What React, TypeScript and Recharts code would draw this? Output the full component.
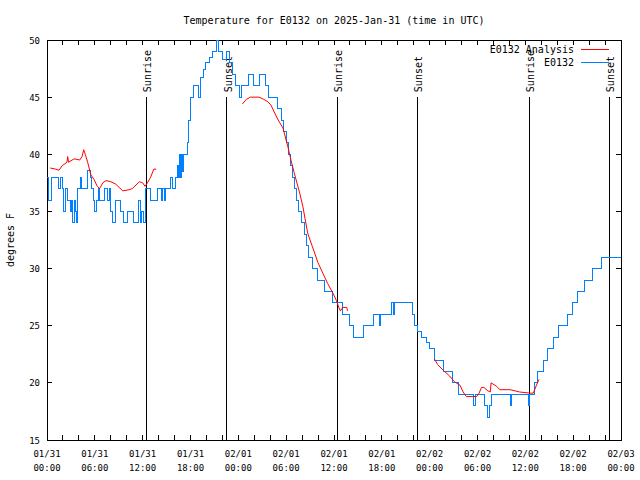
import { LineChart, Line, XAxis, YAxis, ReferenceLine, ReferenceArea } from 'recharts'

const FONT = '"DejaVu Sans Mono", "Liberation Mono", monospace'
const PLOT_TOP = 40
const PLOT_BOTTOM = 440
const PLOT_LEFT = 47
const PLOT_RIGHT = 621

// hours since 01/31 00:00 UTC
const hourTicks = [
  0, 2, 4, 6, 8, 10, 12, 14, 16, 18, 20, 22, 24, 26, 28, 30, 32, 34, 36, 38,
  40, 42, 44, 46, 48, 50, 52, 54, 56, 58, 60, 62, 64, 66, 68, 70, 72,
]
const dayLabels = [
  '01/31', '01/31', '01/31', '01/31', '02/01', '02/01', '02/01', '02/01',
  '02/02', '02/02', '02/02', '02/02', '02/03',
]
const clockLabels = [
  '00:00', '06:00', '12:00', '18:00', '00:00', '06:00', '12:00', '18:00',
  '00:00', '06:00', '12:00', '18:00', '00:00',
]
const tempTicks = [15, 20, 25, 30, 35, 40, 45, 50]

const sunTimes = [12.42, 22.55, 36.42, 46.46, 60.52, 70.55]
const sunLabels = ['Sunrise', 'Sunset', 'Sunrise', 'Sunset', 'Sunrise', 'Sunset']

const seriesNames = ['E0132 Analysis', 'E0132']

// station obs [hour, degF]
const observed: [number, number][] = [
  [0, 38], [0.2, 36], [0.55, 38], [1.5, 37], [1.7, 38], [1.9, 37], [2.1, 35],
  [2.35, 37], [2.6, 36], [2.9, 35], [3.05, 36], [3.2, 34], [3.4, 36], [3.6, 35],
  [3.75, 34], [3.85, 37], [4.15, 38], [4.35, 37], [5.1, 38.6], [5.4, 38],
  [5.55, 37], [5.8, 36], [6.0, 35], [6.25, 36], [6.4, 37], [6.6, 36], [7.15, 37],
  [7.6, 36], [7.8, 37], [8.0, 35], [8.2, 34], [8.6, 36], [9.2, 35], [9.6, 34],
  [10.1, 35], [10.9, 34], [11.5, 36], [11.7, 34], [11.9, 35], [12.1, 34],
  [12.35, 37], [13.0, 36], [13.9, 37], [14.3, 36], [14.5, 37], [14.7, 36],
  [14.9, 37], [15.5, 38], [15.7, 37], [16.1, 38], [16.4, 39], [16.55, 38],
  [16.65, 40], [16.8, 38], [16.9, 40], [17.05, 38.5], [17.15, 40], [17.65, 41],
  [17.8, 43], [17.95, 45], [18.4, 46], [19.0, 45], [19.2, 46.7], [19.6, 47.4],
  [19.9, 48], [20.4, 48.5], [20.8, 49], [21.3, 50], [21.5, 49], [22.0, 48.3],
  [22.5, 49], [22.9, 48], [23.3, 47], [23.7, 46], [24.1, 45], [24.45, 46],
  [25.3, 47], [25.95, 46], [26.6, 47], [27.35, 46], [27.8, 45], [28.9, 44],
  [29.4, 43], [29.7, 42], [30.0, 41], [30.3, 40], [30.6, 39], [30.85, 38],
  [31.05, 37], [31.35, 36], [31.6, 35], [31.95, 34], [32.25, 33], [32.55, 32],
  [32.85, 31], [33.3, 30], [33.9, 29], [34.8, 28], [35.85, 27], [37.05, 26],
  [37.95, 25], [38.4, 24], [39.65, 25], [40.9, 26], [41.65, 25], [41.85, 26],
  [43.25, 27], [43.45, 26], [43.6, 27], [45.85, 26], [46.1, 25], [46.5, 24.5],
  [46.95, 24], [47.6, 23.5], [48.0, 23], [48.6, 22], [49.7, 21], [50.9, 20],
  [51.6, 19], [53.55, 18], [53.7, 19], [54.9, 18], [55.2, 17], [55.45, 18],
  [55.8, 19], [58.15, 18], [58.3, 19], [60.45, 18], [60.55, 19], [61.2, 20],
  [61.55, 21], [62.3, 22], [62.75, 23], [63.5, 24], [64.2, 25], [65.3, 26],
  [65.9, 27], [66.5, 28], [67.4, 29], [68.4, 30], [69.6, 31], [72, 31],
]

// analysis runs [hour, degF]
const analysisRun1: [number, number][] = [
  [0.4, 38.8], [1.1, 38.7], [1.5, 38.6], [1.9, 39.0], [2.5, 39.3], [2.6, 39.8],
  [2.7, 39.3], [3.4, 39.6], [4.1, 39.5], [4.4, 39.8], [4.6, 40.4], [4.8, 40.0],
  [5.1, 39.3], [5.5, 38.2], [5.9, 37.8], [6.3, 37.2], [6.6, 37.0], [7.0, 37.5],
  [7.4, 37.7], [8.0, 37.6], [8.6, 37.4], [9.5, 36.8], [10.3, 36.9], [10.7, 37.0],
  [11.6, 37.6], [12.0, 37.5], [12.3, 37.2], [12.6, 37.5], [13.0, 38.0],
  [13.4, 38.7], [13.7, 38.7],
]
const analysisRun2: [number, number][] = [
  [24.5, 44.4], [25.0, 44.8], [25.5, 45.0], [26.6, 45.0], [27.2, 44.8],
  [27.7, 44.6], [28.1, 44.3], [28.5, 43.7], [29.0, 43.0], [29.6, 42.3],
  [30.2, 40.7], [30.6, 39.5], [31.0, 38.4], [31.7, 36.6], [32.1, 35.4],
  [32.7, 33.1], [33.3, 31.9], [34.0, 30.5], [34.6, 29.6], [35.2, 28.7],
  [35.9, 27.8], [36.3, 27.2], [36.6, 26.6], [36.8, 26.3], [37.1, 26.6],
  [37.6, 26.6], [37.7, 26.3],
]
const analysisRun3: [number, number][] = [
  [48.6, 22.1], [49.0, 21.6], [49.7, 21.1], [50.5, 20.6], [51.1, 20.1],
  [51.8, 19.8], [52.2, 19.2], [52.6, 18.8], [53.9, 18.8], [54.2, 19.1],
  [54.5, 19.6], [54.8, 19.6], [55.3, 19.3], [55.6, 19.2], [55.7, 20.0],
  [56.4, 19.7], [56.8, 19.4], [58.1, 19.4], [58.7, 19.3], [59.3, 19.2],
  [60.6, 19.1], [61.0, 19.1], [61.4, 19.8], [61.7, 20.3],
]

const RED = '#ff0000'
const BLUE = '#0080ff'

const toRows = (pts: [number, number][]) => pts.map(([t, temp]) => ({ t, temp }))
const observedRows = toRows(observed)
const analysisRows = [
  ...toRows(analysisRun1),
  { t: 19, temp: null },
  ...toRows(analysisRun2),
  { t: 43, temp: null },
  ...toRows(analysisRun3),
]

function HourTick(props: any) {
  const { x, payload } = props
  const h = payload.value
  const idx = h % 6 === 0 ? h / 6 : -1
  return (
    <g>
      <line x1={x} x2={x} y1={PLOT_BOTTOM} y2={PLOT_BOTTOM - 5} stroke="#000" shapeRendering="crispEdges" />
      <line x1={x} x2={x} y1={PLOT_TOP} y2={PLOT_TOP + 5} stroke="#000" shapeRendering="crispEdges" />
      {idx >= 0 && (
        <text x={x} y={PLOT_BOTTOM + 17} textAnchor="middle" fontSize={9} fontFamily={FONT} fill="#000">
          <tspan x={x}>{dayLabels[idx]}</tspan>
          <tspan x={x} dy={14}>{clockLabels[idx]}</tspan>
        </text>
      )}
    </g>
  )
}

function TempTick(props: any) {
  const { y, payload } = props
  return (
    <g>
      <line x1={PLOT_LEFT} x2={PLOT_LEFT + 5} y1={y} y2={y} stroke="#000" shapeRendering="crispEdges" />
      <line x1={PLOT_RIGHT} x2={PLOT_RIGHT - 5} y1={y} y2={y} stroke="#000" shapeRendering="crispEdges" />
      <text x={PLOT_LEFT - 7} y={y + 3.5} textAnchor="end" fontSize={9} fontFamily={FONT} fill="#000">
        {payload.value}
      </text>
    </g>
  )
}

function SunLabel(props: any) {
  const { viewBox, text } = props
  if (!viewBox) return null
  const x = viewBox.x + 5
  const y = viewBox.y - 5
  return (
    <text x={x} y={y} transform={`rotate(-90 ${x} ${y})`} fontSize={10} fontFamily={FONT} fill="#000">
      {text}
    </text>
  )
}

export default function App() {
  return (
    <div style={{ position: 'absolute', left: 0, top: 0, width: 640, height: 480, background: '#fff' }}>
      <LineChart
        width={640}
        height={480}
        margin={{ top: PLOT_TOP, right: 640 - PLOT_RIGHT, bottom: 0, left: 0 }}
      >
        <XAxis
          type="number"
          dataKey="t"
          domain={[0, 72]}
          ticks={hourTicks}
          interval={0}
          tickLine={false}
          axisLine={false}
          height={40}
          tick={(p: any) => <HourTick {...p} />}
        />
        <YAxis
          type="number"
          domain={[15, 50]}
          ticks={tempTicks}
          interval={0}
          tickLine={false}
          axisLine={false}
          width={PLOT_LEFT}
          tick={(p: any) => <TempTick {...p} />}
        />
        <ReferenceArea x1={0} x2={72} y1={15} y2={50} fill="none" stroke="#000" shapeRendering="crispEdges" />
        {sunTimes.map((h, i) => (
          <ReferenceLine
            key={i}
            segment={[{ x: h, y: 15 }, { x: h, y: 45 }]}
            stroke="#000"
            shapeRendering="crispEdges"
            label={<SunLabel text={sunLabels[i]} />}
          />
        ))}
        <Line
          data={observedRows}
          dataKey="temp"
          type="stepAfter"
          stroke={BLUE}
          strokeWidth={1}
          shapeRendering="crispEdges"
          dot={false}
          isAnimationActive={false}
        />
        <Line
          data={analysisRows}
          dataKey="temp"
          type="linear"
          stroke={RED}
          strokeWidth={1}
          dot={false}
          isAnimationActive={false}
        />
      </LineChart>
      <svg
        width={640}
        height={480}
        style={{ position: 'absolute', left: 0, top: 0, pointerEvents: 'none' }}
      >
        <text x={334} y={24} textAnchor="middle" fontSize={10} fontFamily={FONT} fill="#000">
          Temperature for E0132 on 2025-Jan-31 (time in UTC)
        </text>
        <text transform="translate(14 240) rotate(-90)" textAnchor="middle" fontSize={10} fontFamily={FONT} fill="#000">
          degrees F
        </text>
        <text x={574} y={53} textAnchor="end" fontSize={10} fontFamily={FONT} fill="#000">
          {seriesNames[0]}
        </text>
        <line x1={581} x2={609} y1={49.5} y2={49.5} stroke={RED} />
        <text x={574} y={66} textAnchor="end" fontSize={10} fontFamily={FONT} fill="#000">
          {seriesNames[1]}
        </text>
        <line x1={581} x2={609} y1={62.5} y2={62.5} stroke={BLUE} />
      </svg>
    </div>
  )
}
